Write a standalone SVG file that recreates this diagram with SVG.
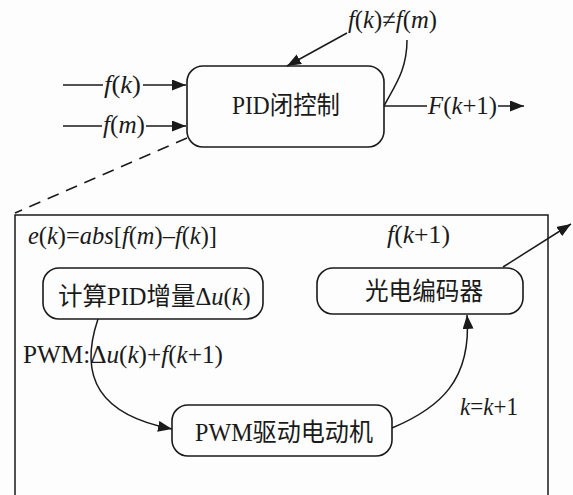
<svg xmlns="http://www.w3.org/2000/svg" width="573" height="495" viewBox="0 0 573 495">
<style>
.box{fill:none;stroke:#1a1a1a;stroke-width:1.6}
.ln{fill:none;stroke:#1a1a1a;stroke-width:1.5}
.arr{marker-end:url(#ah)}
.dash{stroke-dasharray:12 8}
text{font-family:"Liberation Serif","Noto Sans CJK SC",serif;font-size:25.5px;fill:#1a1a1a}
.i{font-style:italic}
</style>
<defs>
<marker id="ah" markerUnits="userSpaceOnUse" markerWidth="15" markerHeight="11" refX="14" refY="5.5" orient="auto">
<path d="M0,0 L14,5.5 L0,11 z" fill="#1a1a1a"/>
</marker>
</defs>
<rect width="573" height="495" fill="#fdfdfd"/>

<g id="frame">
<path class="ln" d="M15,495 V215 H548 V495"/>
</g>

<g id="pid">
<rect class="box" x="187" y="66" width="197" height="81" rx="16"/>
<text x="232" y="114" textLength="108" lengthAdjust="spacingAndGlyphs">PID闭控制</text>
</g>

<g id="calc">
<rect class="box" x="43" y="268" width="220" height="51" rx="16"/>
<text x="58" y="305" style="font-size:24.5px">计算PID增量Δ<tspan class="i">u</tspan>(<tspan class="i">k</tspan>)</text>
</g>

<g id="encoder">
<rect class="box" x="317" y="268" width="206" height="46" rx="16"/>
<text x="365" y="300" textLength="118" lengthAdjust="spacingAndGlyphs">光电编码器</text>
</g>

<g id="motor">
<rect class="box" x="172" y="405" width="220" height="51" rx="16"/>
<text x="195" y="441" textLength="178" lengthAdjust="spacingAndGlyphs">PWM驱动电动机</text>
</g>

<g id="connectors">
<path class="ln" d="M63,85 H103"/>
<path class="ln arr" d="M143,85 H186"/>
<path class="ln" d="M63,126 H102"/>
<path class="ln arr" d="M146,126 H186"/>
<path class="ln arr" d="M347,33 L287,66"/>
<path class="ln" d="M407,40 C407,70 395,85 384,106"/>
<path class="ln" d="M384,106 H427"/>
<path class="ln arr" d="M498,106 H524"/>
<path class="ln dash" d="M187,138 L15,213"/>
<path class="ln arr" d="M503,267 L571,224"/>
<path class="ln arr" d="M98,319 C78,378 100,415 172,429"/>
<path class="ln arr" d="M392,428 C440,408 472,380 467,315"/>
</g>

<g id="labels">
<text x="104" y="93" textLength="37" lengthAdjust="spacingAndGlyphs"><tspan class="i">f</tspan>(<tspan class="i">k</tspan>)</text>
<text x="103" y="133" textLength="42" lengthAdjust="spacingAndGlyphs"><tspan class="i">f</tspan>(<tspan class="i">m</tspan>)</text>
<text x="348" y="28" textLength="89" lengthAdjust="spacingAndGlyphs"><tspan class="i">f</tspan>(<tspan class="i">k</tspan>)≠<tspan class="i">f</tspan>(<tspan class="i">m</tspan>)</text>
<text x="428" y="114" textLength="69" lengthAdjust="spacingAndGlyphs"><tspan class="i">F</tspan>(<tspan class="i">k</tspan>+1)</text>
<text x="28" y="244" textLength="189" lengthAdjust="spacingAndGlyphs"><tspan class="i">e</tspan>(<tspan class="i">k</tspan>)=<tspan class="i">abs</tspan>[<tspan class="i">f</tspan>(<tspan class="i">m</tspan>)–<tspan class="i">f</tspan>(<tspan class="i">k</tspan>)]</text>
<text x="387" y="243" textLength="63" lengthAdjust="spacingAndGlyphs"><tspan class="i">f</tspan>(<tspan class="i">k</tspan>+1)</text>
<text x="23" y="363" textLength="200" lengthAdjust="spacingAndGlyphs">PWM:Δ<tspan class="i">u</tspan>(<tspan class="i">k</tspan>)+<tspan class="i">f</tspan>(<tspan class="i">k</tspan>+1)</text>
<text x="460" y="415" textLength="58" lengthAdjust="spacingAndGlyphs"><tspan class="i">k</tspan>=<tspan class="i">k</tspan>+1</text>
</g>
</svg>
